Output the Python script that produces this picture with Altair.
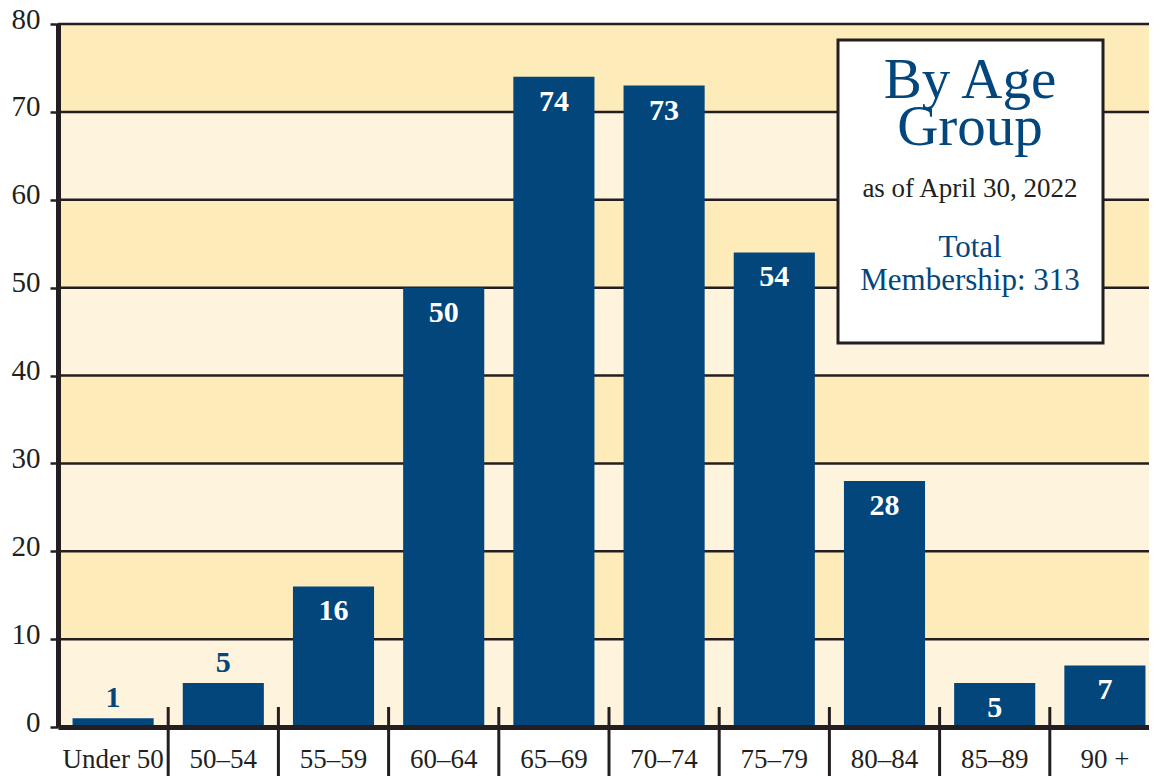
import altair as alt
import pandas as pd

groups = ["Under 50", "50–54", "55–59", "60–64", "65–69", "70–74", "75–79", "80–84", "85–89", "90 +"]
members = [1, 5, 16, 50, 74, 73, 54, 28, 5, 7]
label_inside = [False, False, True, True, True, True, True, True, True, True]

y_ticks = [0, 10, 20, 30, 40, 50, 60, 70, 80]
band_low = [0, 10, 20, 30, 40, 50, 60, 70]
band_high = [10, 20, 30, 40, 50, 60, 70, 80]
band_shade = ["light", "dark", "light", "dark", "light", "dark", "light", "dark"]
grid_values = [10, 20, 30, 40, 50, 60, 70, 80]

box_title = ["By Age", "Group"]
box_date = "as of April 30, 2022"
box_total = ["Total", "Membership: 313"]

BLUE = "#02467C"
DARK = "#231F20"
SERIF = "Liberation Serif"
PAD_IN = 0.264
W = 1102
STEP = W / len(groups)

df = pd.DataFrame({"group": groups, "count": members, "inside": label_inside})
bands = pd.DataFrame({"low": band_low, "high": band_high, "shade": band_shade})
grid = pd.DataFrame({"v": grid_values})
seps = pd.DataFrame({"group": groups[1:]})
one = pd.DataFrame({"a": [0]})

yscale = alt.Scale(domain=[0, 80], nice=False, zero=True)
xscale = alt.Scale(paddingInner=PAD_IN, paddingOuter=PAD_IN / 2)

xaxis = alt.Axis(labelFont=SERIF, labelFontSize=27, labelColor=DARK, labelAngle=0,
                 ticks=False, labelPadding=40, labelBaseline="alphabetic", title=None,
                 domainColor=DARK, domainWidth=5, zindex=1, labelOverlap=False)
yaxis = alt.Axis(values=y_ticks, grid=False, labelFont=SERIF, labelFontSize=29, title=None,
                 labelColor=DARK, tickColor=DARK, tickWidth=2.5, tickSize=8,
                 labelPadding=10, labelOffset=-5, domainColor=DARK, domainWidth=5, zindex=1)

band_layer = alt.Chart(bands).mark_rect().encode(
    y=alt.Y("low:Q", scale=yscale, axis=yaxis),
    y2="high:Q",
    color=alt.Color("shade:N", scale=alt.Scale(domain=["light", "dark"], range=["#FEF3DD", "#FEEBBA"]), legend=None),
)

grid_layer = alt.Chart(grid).mark_rule(color=DARK, strokeWidth=2.5).encode(
    y=alt.Y("v:Q", scale=yscale, axis=yaxis)
)

bars = alt.Chart(df).mark_bar(color=BLUE).encode(
    x=alt.X("group:N", sort=groups, scale=xscale, axis=xaxis),
    y=alt.Y("count:Q", scale=yscale, axis=yaxis),
)

lab_in = alt.Chart(df).transform_filter("datum.inside").mark_text(
    baseline="alphabetic", dy=34, color="white", font=SERIF, fontWeight="bold", fontSize=30
).encode(
    x=alt.X("group:N", sort=groups, axis=xaxis),
    y=alt.Y("count:Q", axis=yaxis),
    text="count:Q",
)

lab_out = alt.Chart(df).transform_filter("!datum.inside").mark_text(
    baseline="alphabetic", dy=-11, color=BLUE, font=SERIF, fontWeight="bold", fontSize=30
).encode(
    x=alt.X("group:N", sort=groups, axis=xaxis),
    y=alt.Y("count:Q", axis=yaxis),
    text="count:Q",
)

sep_layer = alt.Chart(seps).mark_rule(color=DARK, strokeWidth=3, xOffset=-STEP * PAD_IN / 2).encode(
    x=alt.X("group:N", sort=groups, bandPosition=0, axis=xaxis),
    y=alt.value(683),
    y2=alt.value(752),
)

box = alt.Chart(one).mark_rect(fill="white", stroke=DARK, strokeWidth=3).encode(
    x=alt.value(780), x2=alt.value(1045), y=alt.value(16), y2=alt.value(319)
)

t1 = alt.Chart(one).mark_text(text=box_title[0], font=SERIF, fontSize=57, color=BLUE,
                              baseline="alphabetic", align="center").encode(
    x=alt.value(912), y=alt.value(74))
t2 = alt.Chart(one).mark_text(text=box_title[1], font=SERIF, fontSize=57, color=BLUE,
                              baseline="alphabetic", align="center").encode(
    x=alt.value(912), y=alt.value(121))
t3 = alt.Chart(one).mark_text(text=box_date, font=SERIF, fontSize=27, color=DARK,
                              baseline="alphabetic", align="center").encode(
    x=alt.value(912), y=alt.value(173))
t4 = alt.Chart(one).mark_text(text=box_total[0], font=SERIF, fontSize=31, color=BLUE,
                              baseline="alphabetic", align="center").encode(
    x=alt.value(912), y=alt.value(233))
t5 = alt.Chart(one).mark_text(text=box_total[1], font=SERIF, fontSize=31, color=BLUE,
                              baseline="alphabetic", align="center").encode(
    x=alt.value(912), y=alt.value(266))

chart = alt.layer(band_layer, grid_layer, bars, lab_in, lab_out, sep_layer, box, t1, t2, t3, t4, t5).properties(
    width=W, height=703,
    autosize=alt.AutoSizeParams(type="none"),
    padding={"left": 50, "top": 16, "right": -11, "bottom": 49},
).configure_view(stroke=None).configure(background="white")

chart.save("out.html", embed_options={"renderer": "svg", "actions": False})
